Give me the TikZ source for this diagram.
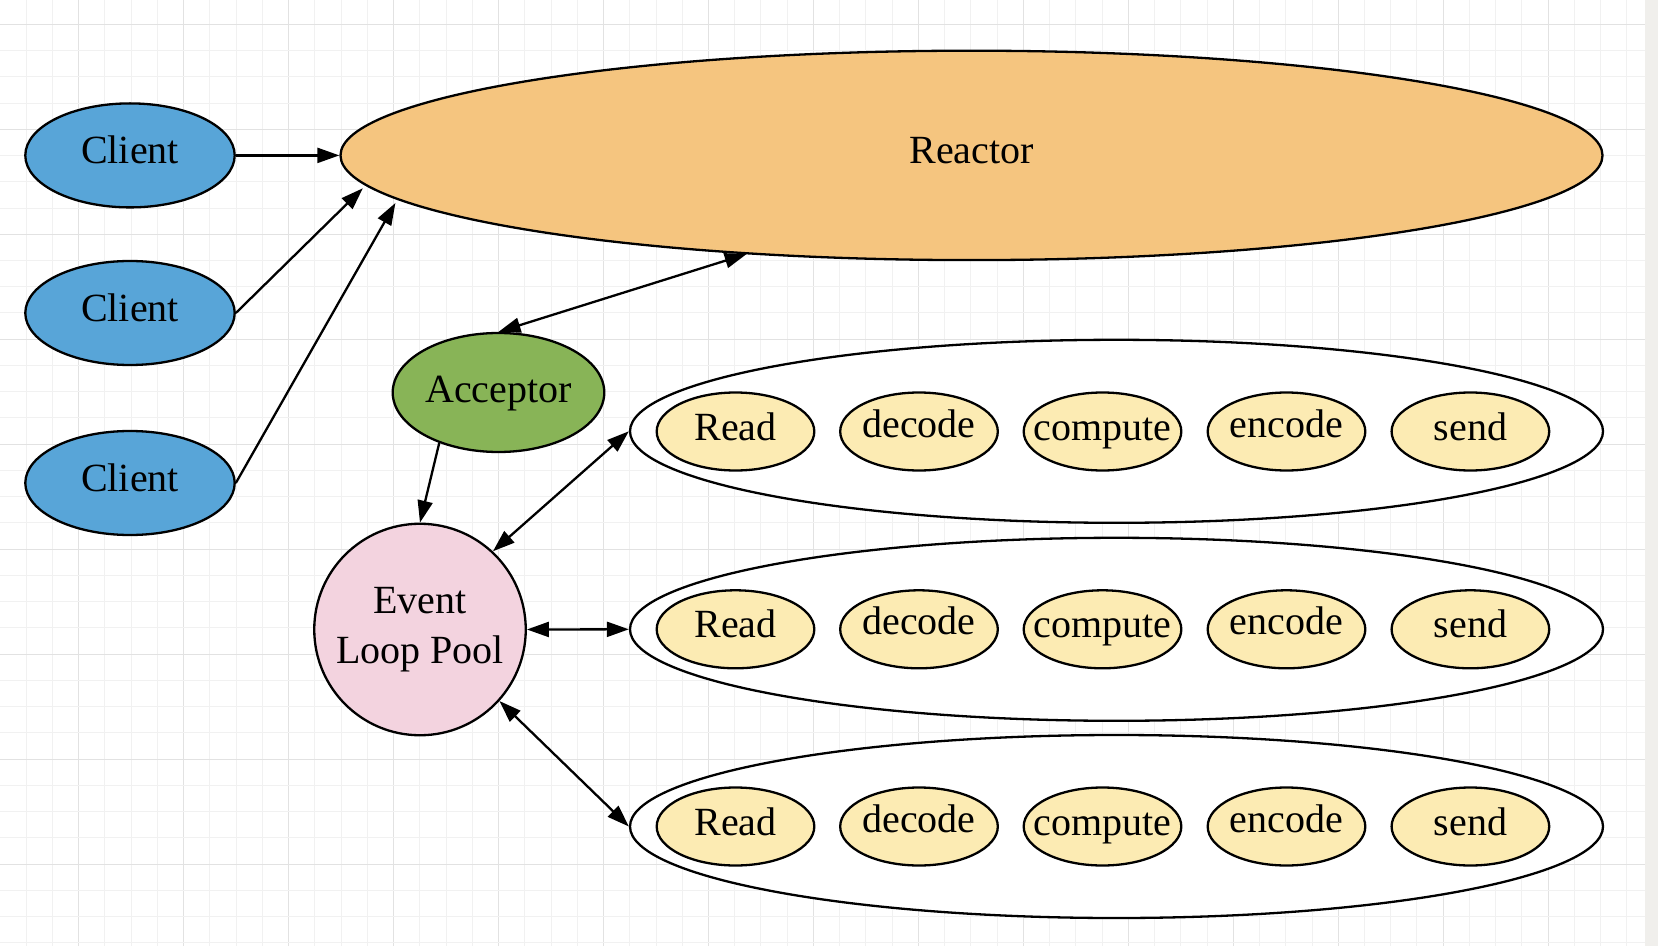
\documentclass[tikz,border=0pt]{standalone}
\usepackage{fontspec}
\setmainfont{Liberation Serif}
\usetikzlibrary{shapes.geometric,arrows.meta}
\definecolor{clientc}{HTML}{58A5D8}
\definecolor{reactorc}{HTML}{F5C57F}
\definecolor{accc}{HTML}{88B457}
\definecolor{poolc}{HTML}{F3D3DF}
\definecolor{taskc}{HTML}{FCEBB3}
\definecolor{gridminor}{HTML}{F1F1F1}
\definecolor{gridmajor}{HTML}{E2E2E2}
\definecolor{edgec}{HTML}{F0EFEC}
\newcommand{\zw}[1]{\makebox[0pt]{#1}}
\begin{document}
\begin{tikzpicture}[x=0.5pt,y=-0.5pt,
  base/.style={draw=black, line width=1.15pt, inner sep=0pt,
    font=\fontsize{20pt}{25pt}\selectfont, text height=13pt, text depth=4.5pt},
  client/.style={base, ellipse, fill=clientc, minimum width=104.7pt, minimum height=52pt},
  reactor/.style={base, ellipse, fill=reactorc, minimum width=631pt, minimum height=104.7pt},
  acceptor/.style={base, ellipse, fill=accc, minimum width=105.8pt, minimum height=59.5pt,
    text height=14pt, text depth=4pt},
  pool/.style={base, circle, fill=poolc, minimum size=105.75pt, align=center,
    text height=, text depth=},
  worker/.style={base, ellipse, fill=white, minimum width=486.5pt, minimum height=91.5pt},
  task/.style={base, ellipse, fill=taskc, minimum width=78.8pt, minimum height=39pt},
  lowtask/.style={task, text height=11pt, text depth=5.5pt},
  arr/.style={line width=1.15pt, -{Triangle[length=11pt,width=7.5pt]}},
  darr/.style={line width=1.15pt, {Triangle[length=11pt,width=7.5pt]}-{Triangle[length=11pt,width=7.5pt]}}
]
\useasboundingbox (0,0) rectangle (1658,946);
\fill[white] (0,0) rectangle (1658,946);
% grid
\foreach \k in {1,...,62}{
  \pgfmathtruncatemacro{\m}{mod(\k,4)}
  \ifnum\m=3
    \draw[gridmajor, line width=0.5pt] (26.24*\k,0) -- (26.24*\k,946);
  \else
    \draw[gridminor, line width=0.5pt] (26.24*\k,0) -- (26.24*\k,946);
  \fi
}
\foreach \k in {1,...,36}{
  \pgfmathtruncatemacro{\m}{mod(\k,4)}
  \ifnum\m=1
    \draw[gridmajor, line width=0.5pt] (0,-1.9+26.24*\k) -- (1645,-1.9+26.24*\k);
  \else
    \draw[gridminor, line width=0.5pt] (0,-1.9+26.24*\k) -- (1645,-1.9+26.24*\k);
  \fi
}
\fill[edgec] (1645,0) rectangle (1658,946);

% nodes
\node[client] (c1) at (130,155.4) {Client};
\node[client] (c2) at (130,313) {Client};
\node[client] (c3) at (130,483) {Client};
\node[reactor] (re) at (971.5,155.4) {Reactor};
\node[acceptor] (ac) at (498.5,392.5) {Acceptor};
\node[pool] (el) at (420,629.5) {Event\\Loop Pool};

\node[worker] (w1) at (1116.5,431.3) {};
\node[worker] (w2) at (1116.5,629.3) {};
\node[worker] (w3) at (1116.5,826.5) {};

\foreach \r/\y in {1/431.5, 2/629.3, 3/826.5}{
  \node[task] (r\r) at (735.5,\y) {\zw{Read}};
  \node[lowtask] (d\r) at (919,\y) {\zw{decode}};
  \node[task] (p\r) at (1102.5,\y) {\zw{compute}};
  \node[lowtask] (e\r) at (1286.5,\y) {\zw{encode}};
  \node[task] (s\r) at (1470.4,\y) {\zw{send}};
}

% connectors
\draw[arr] (c1.east) -- (re.west);
\draw[arr] (c2.east) -- ([shift={(-608.7,32.9)}]re.center);
\draw[arr] (c3.east) -- ([shift={(-576.1,47.6)}]re.center);
\draw[darr] (ac.north) -- ([shift={(-224.8,98.6)}]re.center);
\draw[arr] ([shift={(-59.2,50.2)}]ac.center) -- (el.north);
\draw[darr] (el.47.3) -- (w1.west);
\draw[darr] (el.east) -- (w2.west);
\draw[darr] (el.-42.3) -- (w3.west);
\end{tikzpicture}
\end{document}
